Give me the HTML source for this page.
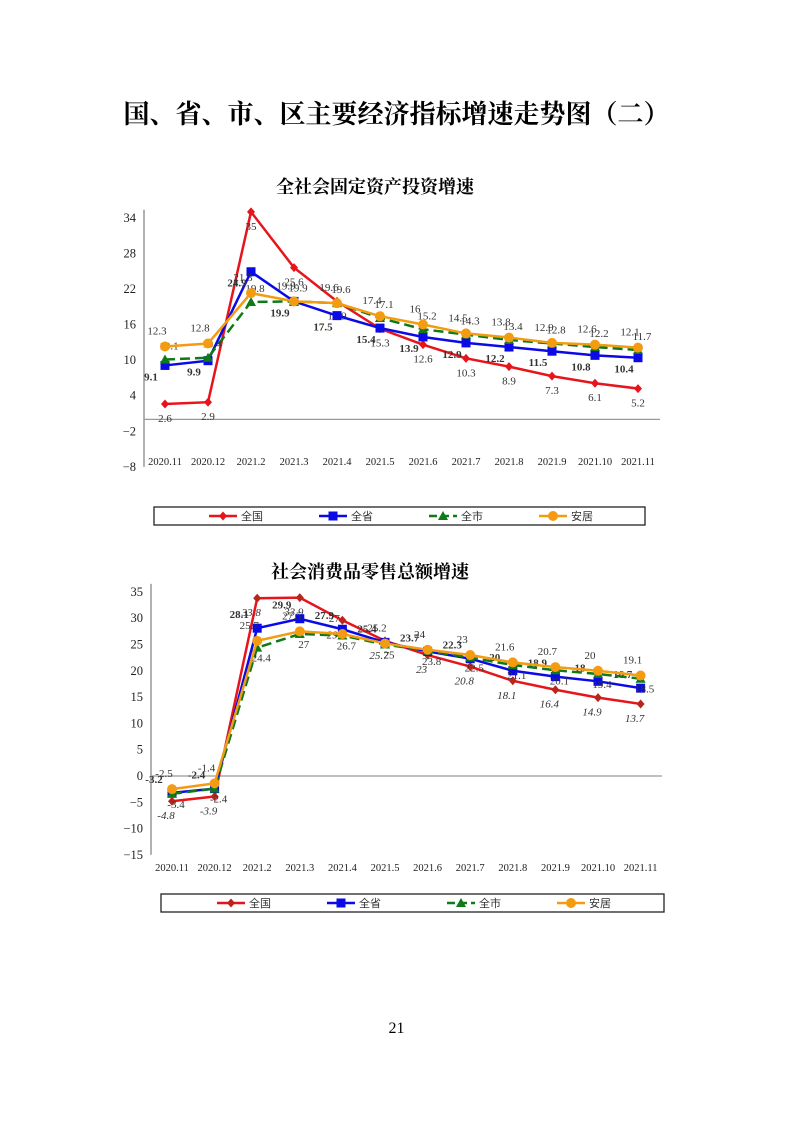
<!DOCTYPE html>
<html><head><meta charset="utf-8">
<style>
html,body{margin:0;padding:0;background:#fff;}
body{width:793px;height:1122px;position:relative;overflow:hidden;font-family:"Liberation Serif","Noto Serif CJK SC",serif;}
#main-title{position:absolute;left:0;width:793px;top:94px;text-align:center;font-size:26px;font-weight:bold;font-family:"Liberation Serif","Noto Serif CJK SC",serif;}
#page-num{position:absolute;left:0;width:793px;top:1020px;text-align:center;font-size:16px;}
svg{position:absolute;left:0;top:0;}
</style></head>
<body>
<div id="main-title">国、省、市、区主要经济指标增速走势图（二）</div>
<svg id="c1" width="793" height="540"></svg>
<svg id="c2" width="793" height="1122"></svg>
<div id="page-num">21</div>
<script>
const categories = ["2020.11","2020.12","2021.2","2021.3","2021.4","2021.5","2021.6","2021.7","2021.8","2021.9","2021.10","2021.11"];
const seriesNames = ["全国","全省","全市","安居"];
// chart 1: 全社会固定资产投资增速
const inv_nation = [2.6,2.9,35,25.6,19.9,15.3,12.6,10.3,8.9,7.3,6.1,5.2];
const inv_province = [9.1,9.9,24.9,19.9,17.5,15.4,13.9,12.9,12.2,11.5,10.8,10.4];
const inv_city = [10.1,10.4,19.8,19.9,19.6,17.1,15.2,14.3,13.4,12.8,12.2,11.7];
const inv_anju = [12.3,12.8,21.3,19.9,19.6,17.4,16,14.5,13.8,12.9,12.6,12.1];
const inv_ticks = [34,28,22,16,10,4,-2,-8];
// chart 2: 社会消费品零售总额增速
const ret_nation = [-4.8,-3.9,33.8,33.9,29.6,25.7,23,20.8,18.1,16.4,14.9,13.7];
const ret_province = [-3.2,-2.4,28.1,29.9,27.9,25.4,23.7,22.3,20,18.9,18.0,16.7];
const ret_city = [-3.4,-2.4,24.4,27,26.7,25,23.8,22.5,21.1,20.1,19.4,18.5];
const ret_anju = [-2.5,-1.4,25.7,27.5,27,25.2,24,23,21.6,20.7,20.0,19.1];
const ret_ticks = [35,30,25,20,15,10,5,0,-5,-10,-15];

const NS="http://www.w3.org/2000/svg";
const colors=["#e8141c","#0a0ae6","#0f7a17","#f39c12"];
function el(svg,tag,attrs,text){const e=document.createElementNS(NS,tag);for(const k in attrs)e.setAttribute(k,attrs[k]);if(text!==undefined)e.textContent=text;svg.appendChild(e);return e;}
function marker(svg,i,x,y,nc){
  let m;
  if(i===0){m=el(svg,"polygon",{points:`${x},${y-4.5} ${x+4},${y} ${x},${y+4.5} ${x-4},${y}`,fill:nc||colors[0]});}
  else if(i===1){m=el(svg,"rect",{x:x-4.5,y:y-4.5,width:9,height:9,fill:colors[1]});}
  else if(i===2){m=el(svg,"polygon",{points:`${x},${y-5} ${x+5},${y+4} ${x-5},${y+4}`,fill:colors[2]});}
  else {m=el(svg,"circle",{cx:x,cy:y,r:5,fill:colors[3]});}
  return m;
}
function drawChart(svgId,cfg){
  const svg=document.getElementById(svgId);
  const ys=v=>cfg.y0-(v*cfg.pxPerUnit);
  const xs=i=>cfg.x0+i*cfg.step;
  const t=el(svg,"text",{x:cfg.titleX,y:cfg.titleY,"text-anchor":"middle","font-size":18,"font-weight":"bold","font-family":"Liberation Serif, Noto Serif CJK SC, serif"},cfg.title);
  
  
  el(svg,"line",{x1:cfg.axisX,y1:ys(cfg.ticks[0])-8,x2:cfg.axisX,y2:ys(cfg.ticks[cfg.ticks.length-1]),stroke:"#999","stroke-width":1.5});
  el(svg,"line",{x1:cfg.axisX,y1:ys(0),x2:cfg.axisEnd,y2:ys(0),stroke:"#999","stroke-width":1.2});
  cfg.ticks.forEach(v=>{
    const tk=el(svg,"text",{x:cfg.axisX-8,y:ys(v)+4,"text-anchor":"end","font-size":12.5,fill:"#222"},String(v).replace("-","−"));
    
    
  });
  categories.forEach((c,i)=>{
    const tx=el(svg,"text",{x:xs(i),y:cfg.xLabelY,"text-anchor":"middle","font-size":10.5,fill:"#222"},c);
    
    
  });
  cfg.series.forEach((data,si)=>{
    const pts=data.map((v,i)=>`${xs(i)},${ys(v)}`).join(" ");
    const ln=el(svg,"polyline",{points:pts,fill:"none",stroke:colors[si],"stroke-width":2.5,"stroke-dasharray":si===2?"10,5":"none"});
    
    
    data.forEach((v,i)=>{
      const m=marker(svg,si,xs(i),ys(v),cfg.nationMarker);
      
      
      const off=cfg.labelOff[si];
      const lb=el(svg,"text",{x:xs(i)+off[0],y:ys(v)+off[1],"text-anchor":"middle","font-size":11,fill:"#333","font-weight":si===1?"bold":"normal","font-style":(cfg.italicNation&&si===0)?"italic":"normal"},String(v));
      
      
    });
  });
  const L=cfg.legend;
  const box=el(svg,"rect",{x:L.x,y:L.y,width:L.w,height:L.h,fill:"#fff",stroke:"#222","stroke-width":1.3});
  
  
  seriesNames.forEach((n,si)=>{
    const lx=L.x+L.starts[si], ly=L.y+L.h/2;
    el(svg,"line",{x1:lx,y1:ly,x2:lx+28,y2:ly,stroke:colors[si],"stroke-width":2.5,"stroke-dasharray":si===2?"8,4":"none"});
    marker(svg,si,lx+14,ly,cfg.nationMarker);
    const lt=el(svg,"text",{x:lx+32,y:ly+4,"font-size":11,fill:"#333","font-family":"Liberation Sans, Noto Sans CJK SC, sans-serif"},n);
    
    
  });
}
drawChart("c1",{title:"全社会固定资产投资增速",titleX:375,titleY:193,
  x0:165,step:43,y0:419.4,pxPerUnit:5.93,axisX:144,axisEnd:660,ticks:inv_ticks,xLabelY:465,
  series:[inv_nation,inv_province,inv_city,inv_anju],
  labelOff:[[0,18],[-14,15],[4,-10],[-8,-12]],italicNation:false,
  legend:{x:154,y:507,w:491,h:18,starts:[55,165,275,385]}});
drawChart("c2",{title:"社会消费品零售总额增速",titleX:370,titleY:578,
  x0:172,step:42.6,y0:776,pxPerUnit:5.26,axisX:151,axisEnd:662,ticks:ret_ticks,xLabelY:871,
  series:[ret_nation,ret_province,ret_city,ret_anju],
  labelOff:[[-6,18],[-18,-10],[4,14],[-8,-12]],italicNation:true,nationMarker:"#b8251c",
  legend:{x:161,y:894,w:503,h:18,starts:[56,166,286,396]}});
</script>
</body></html>
